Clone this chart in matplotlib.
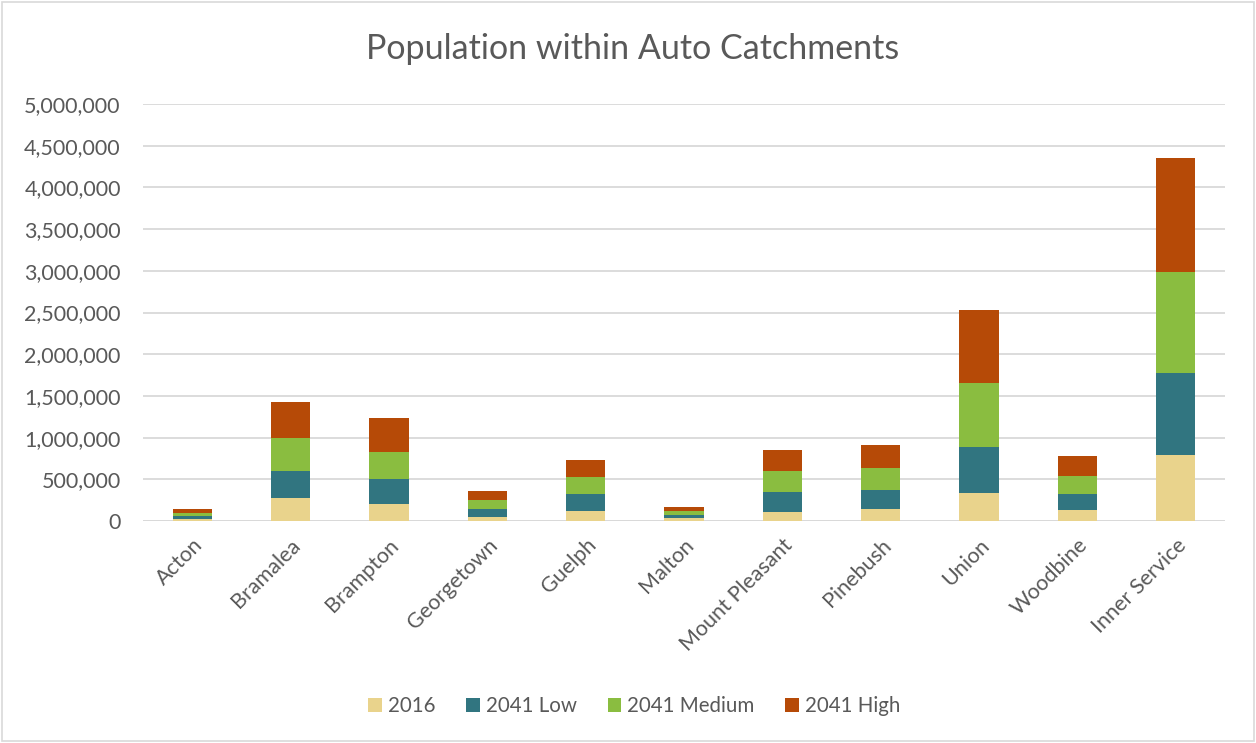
import numpy as np
import matplotlib.pyplot as plt
from matplotlib.patches import Rectangle
from matplotlib.ticker import FuncFormatter

plt.rcParams['font.family'] = ['Lato', 'DejaVu Sans']

stations = ["Acton", "Bramalea", "Brampton", "Georgetown", "Guelph", "Malton",
            "Mount Pleasant", "Pinebush", "Union", "Woodbine", "Inner Service"]
pop_2016 = [25000, 272000, 200000, 44000, 124000, 36000, 112000, 148000, 332000, 136000, 795000]
low_2041 = [31000, 331000, 300000, 96000, 200000, 40000, 236000, 227000, 552000, 188000, 983000]
med_2041 = [40000, 397000, 331000, 112000, 207000, 48000, 248000, 264000, 767000, 216000, 1204000]
high_2041 = [49000, 430000, 400000, 108000, 200000, 48000, 252000, 272000, 879000, 239000, 1367000]

series = [("2016", pop_2016, "#e9d38c"),
          ("2041 Low", low_2041, "#317580"),
          ("2041 Medium", med_2041, "#8abd40"),
          ("2041 High", high_2041, "#b64a07")]

txt = "#595959"
fig = plt.figure(figsize=(12.56, 7.43), dpi=100)
ax = fig.add_axes([143/1256, 1-521/743, (1225-143)/1256, (521-104)/743])

x = np.arange(len(stations))
bottom = np.zeros(len(stations))
for name, vals, col in series:
    ax.bar(x, vals, 0.4, bottom=bottom, color=col, label=name, zorder=3)
    bottom += np.array(vals)

ax.set_xlim(-0.5, len(stations) - 0.5)
ax.set_ylim(0, 5000000)
ax.set_yticks(np.arange(0, 5000001, 500000))
ax.yaxis.set_major_formatter(FuncFormatter(lambda v, p: f"{int(v):,}"))
ax.grid(axis='y', color='#d9d9d9', linewidth=1.3, zorder=0)
for s in ax.spines.values():
    s.set_visible(False)
ax.axhline(0, color='#d9d9d9', linewidth=1.3, zorder=2)
ax.tick_params(axis='y', length=0, pad=16, labelsize=15.5, labelcolor=txt)
ax.tick_params(axis='x', length=0, pad=10, labelsize=15.5, labelcolor=txt)
ax.set_xticks(x)
ax.set_xticklabels(stations, rotation=45, ha='right', rotation_mode='anchor')

fig.text(0.504, 1-49/743, "Population within Auto Catchments", ha='center', va='center',
         fontsize=24.5, color=txt)

fig.legend(loc='center', bbox_to_anchor=(0.505, 1-706/743), ncol=4, frameon=False,
           fontsize=14.8, labelcolor=txt, handlelength=0.65, handleheight=0.65,
           handletextpad=0.3, columnspacing=1.5)

fig.patches.append(Rectangle((2/1256, 2/743), 1-4/1256, 1-4/743, transform=fig.transFigure,
                             fill=False, edgecolor='#d9d9d9', linewidth=1.2))

fig.savefig("out.png", dpi=100)
